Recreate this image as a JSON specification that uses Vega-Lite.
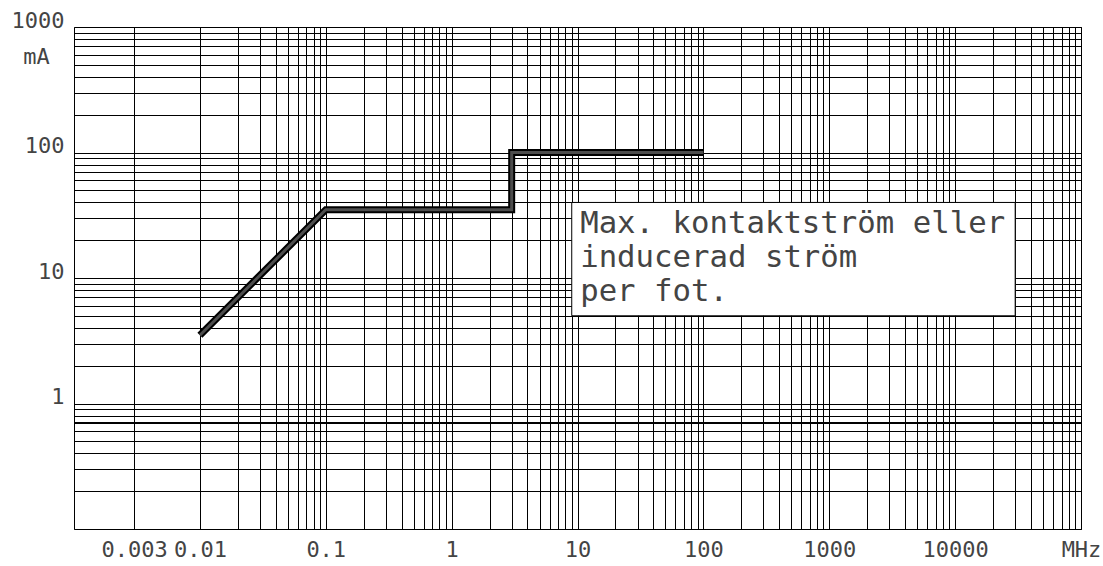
{
  "$schema": "https://vega.github.io/schema/vega-lite/v6.json",
  "autosize": {"type": "none"},
  "padding": {"left": 74, "top": 27, "right": 22, "bottom": 37},
  "width": 1007,
  "height": 502,
  "background": "white",
  "config": {
    "view": {"stroke": "#000", "strokeWidth": 1},
    "font": "DejaVu Sans Mono"
  },
  "datasets": {
    "curve": [
      {"f": 0.01, "i": 3.5, "o": 1},
      {"f": 0.1, "i": 35, "o": 2},
      {"f": 3, "i": 35, "o": 3},
      {"f": 3, "i": 100, "o": 4},
      {"f": 100, "i": 100, "o": 5}
    ],
    "ref": [{"i": 0.7}],
    "box": [{"f1": 9, "f2": 30000, "i1": 5, "i2": 40, "tf": 10.5, "ti": 22.9, "label": "Max. kontaktström eller\ninducerad ström\nper fot."}]
  },
  "encoding": {
    "x": {
      "field": "f", "type": "quantitative",
      "scale": {"type": "log", "domain": [0.001, 100000], "nice": false},
      "axis": {
        "title": null,
        "values": [0.003, 0.01, 0.02, 0.03, 0.04, 0.05, 0.06, 0.07, 0.08, 0.09, 0.1, 0.2, 0.3, 0.4, 0.5, 0.6, 0.7, 0.8, 0.9, 1, 2, 3, 4, 5, 6, 7, 8, 9, 10, 20, 30, 40, 50, 60, 70, 80, 90, 100, 200, 300, 400, 500, 600, 700, 800, 900, 1000, 2000, 3000, 4000, 5000, 6000, 7000, 8000, 9000, 10000, 20000, 30000, 40000, 50000, 60000, 70000, 80000, 90000, 100000],
        "grid": true, "gridColor": "#000", "gridOpacity": 1, "gridWidth": 1,
        "ticks": false, "domain": false,
        "labelOverlap": false, "labelBound": false, "labelFlush": false,
        "labelFont": "DejaVu Sans Mono", "labelFontSize": 22, "labelColor": "#444",
        "labelPadding": 10, "labelBaseline": "top", "labelAlign": "center",
        "labelExpr": "datum.value >= 99999 ? 'MHz' : ((abs(datum.value - 0.003) < 1e-9 || abs(log(datum.value)/LN10 - round(log(datum.value)/LN10)) < 0.001) ? format(datum.value, '~g') : '')"
      }
    },
    "y": {
      "field": "i", "type": "quantitative",
      "scale": {"type": "log", "domain": [0.1, 1000], "nice": false},
      "axis": {
        "title": "mA", "titleAngle": 0, "titleX": -38, "titleY": 36, "titleAlign": "center", "titleBaseline": "alphabetic",
        "titleFont": "DejaVu Sans Mono", "titleFontSize": 22, "titleFontWeight": "normal", "titleColor": "#444",
        "values": [0.1, 0.2, 0.3, 0.4, 0.5, 0.6, 0.7, 0.8, 0.9, 1, 2, 3, 4, 5, 6, 7, 8, 9, 10, 20, 30, 40, 50, 60, 70, 80, 90, 100, 200, 300, 400, 500, 600, 700, 800, 900, 1000],
        "grid": true, "gridColor": "#000", "gridOpacity": 1, "gridWidth": 1,
        "ticks": false, "domain": false,
        "labelOverlap": false, "labelBound": false, "labelFlush": false,
        "labelFont": "DejaVu Sans Mono", "labelFontSize": 22, "labelColor": "#444",
        "labelPadding": 10, "labelBaseline": "alphabetic", "labelAlign": "right",
        "labelExpr": "(datum.value >= 0.99 && abs(log(datum.value)/LN10 - round(log(datum.value)/LN10)) < 0.001) ? format(datum.value, '~g') : ''"
      }
    }
  },
  "layer": [
    {
      "data": {"name": "ref"},
      "mark": {"type": "rule", "color": "#000", "strokeWidth": 2},
      "encoding": {"y": {"field": "i", "type": "quantitative"}, "x": null}
    },
    {
      "data": {"name": "curve"},
      "mark": {"type": "line", "color": "#000", "strokeWidth": 7, "strokeJoin": "miter"},
      "encoding": {"order": {"field": "o"}}
    },
    {
      "data": {"name": "curve"},
      "mark": {"type": "line", "color": "#4d4d4d", "strokeWidth": 3, "strokeJoin": "miter"},
      "encoding": {"order": {"field": "o"}}
    },
    {
      "data": {"name": "box"},
      "mark": {"type": "rect", "fill": "white", "stroke": "#000", "strokeWidth": 1},
      "encoding": {
        "x": {"field": "f1", "type": "quantitative"},
        "x2": {"field": "f2"},
        "y": {"field": "i1", "type": "quantitative"},
        "y2": {"field": "i2"}
      }
    },
    {
      "data": {"name": "box"},
      "mark": {"type": "text", "align": "left", "baseline": "alphabetic", "lineBreak": "\n", "lineHeight": 34, "font": "DejaVu Sans Mono", "fontSize": 30.7, "color": "#444"},
      "encoding": {
        "x": {"field": "tf", "type": "quantitative"},
        "y": {"field": "ti", "type": "quantitative"},
        "text": {"field": "label"}
      }
    }
  ]
}
